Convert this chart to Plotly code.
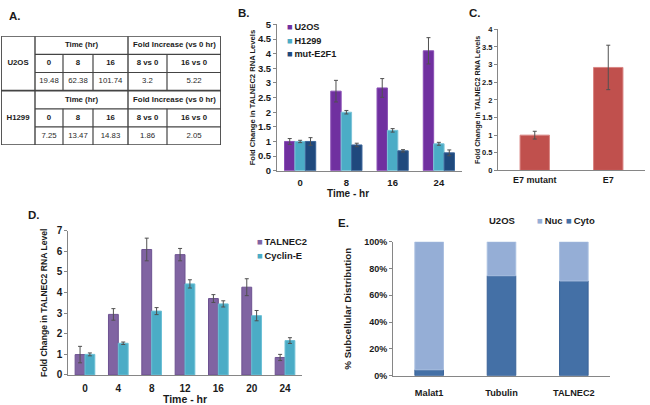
import plotly.graph_objects as go

W, H = 650, 405
FONT = "Arial, 'Liberation Sans', 'DejaVu Sans', sans-serif"
AX = "#868686"
ERR = "#505050"

def px(x):
    return x / W

def py(y):
    return 1 - y / H

# ---------------- Panel A: table data ----------------
table_cells = ["U2OS", "H1299"]
time_labels = ["0", "8", "16"]
fold_labels = ["8 vs 0", "16 vs 0"]
u2os_vals = ["19.48", "62.38", "101.74", "3.2", "5.22"]
h1299_vals = ["7.25", "13.47", "14.83", "1.86", "2.05"]

# ---------------- Panel B data ----------------
b_times = ["0", "8", "16", "24"]
b_u2os = [1.0, 2.72, 2.83, 4.1]
b_u2os_err = [0.1, 0.37, 0.32, 0.45]
b_h1299 = [1.0, 2.0, 1.38, 0.92]
b_h1299_err = [0.04, 0.06, 0.06, 0.05]
b_mut = [1.0, 0.88, 0.68, 0.61]
b_mut_err = [0.13, 0.06, 0.04, 0.1]

# ---------------- Panel C data ----------------
c_cats = ["E7 mutant", "E7"]
c_vals = [1.0, 2.92]
c_err = [0.11, 0.63]

# ---------------- Panel D data ----------------
d_times = ["0", "4", "8", "12", "16", "20", "24"]
d_talnec2 = [0.99, 2.94, 6.09, 5.84, 3.71, 4.26, 0.85]
d_talnec2_err = [0.4, 0.28, 0.55, 0.3, 0.19, 0.41, 0.15]
d_cyclin = [1.0, 1.54, 3.1, 4.42, 3.45, 2.88, 1.67]
d_cyclin_err = [0.07, 0.06, 0.17, 0.2, 0.15, 0.25, 0.14]

# ---------------- Panel E data ----------------
e_cats = ["Malat1", "Tubulin", "TALNEC2"]
e_cyto = [4.4, 74.6, 70.7]
e_nuc = [95.6, 25.4, 29.3]

fig = go.Figure()

def errbar(arr):
    return dict(type="data", array=arr, color=ERR, thickness=1, width=2)

# Panel B bars
bw = 0.225
for i, (name, vals, errs, col, edge) in enumerate([
    ("U2OS", b_u2os, b_u2os_err, "#7030A0", "#8a4fb5"),
    ("H1299", b_h1299, b_h1299_err, "#4BACC6", "#7cc4d8"),
    ("mut-E2F1", b_mut, b_mut_err, "#1F497D", "#3b6599"),
]):
    fig.add_trace(go.Bar(x=b_times, y=vals, name=name, width=bw, offset=(i - 1.5) * bw,
                         marker=dict(color=col, line=dict(color=edge, width=1)),
                         error_y=errbar(errs), xaxis="x", yaxis="y", showlegend=False))

# Panel C bars
fig.add_trace(go.Bar(x=c_cats, y=c_vals, width=0.4,
                     marker=dict(color="#C0504D", line=dict(color="#d98583", width=1)),
                     error_y=errbar(c_err), xaxis="x2", yaxis="y2", showlegend=False))

# Panel D bars
dw = 0.295
for i, (name, vals, errs, col, edge) in enumerate([
    ("TALNEC2", d_talnec2, d_talnec2_err, "#8064A2", "#6d5291"),
    ("Cyclin-E", d_cyclin, d_cyclin_err, "#4BACC6", "#6cc0d6"),
]):
    fig.add_trace(go.Bar(x=d_times, y=vals, name=name, width=dw, offset=(i - 1) * dw,
                         marker=dict(color=col, line=dict(color=edge, width=1)),
                         error_y=errbar(errs), xaxis="x3", yaxis="y3", showlegend=False))

# Panel E stacked bars
fig.add_trace(go.Bar(x=e_cats, y=e_cyto, name="Cyto", width=0.395,
                     marker=dict(color="#4470A6", line=dict(color="#3a6398", width=1)),
                     xaxis="x4", yaxis="y4", showlegend=False))
fig.add_trace(go.Bar(x=e_cats, y=e_nuc, base=e_cyto, name="Nuc", width=0.395,
                     marker=dict(color="#95AED6", line=dict(color="#a9bfe0", width=1)),
                     xaxis="x4", yaxis="y4", showlegend=False))

# ---------------- Panel A table ----------------
col_w = [34, 28, 30, 35, 39, 54]
edges = [0]
for w_ in col_w:
    edges.append(edges[-1] + w_)
centers = [(edges[i] + edges[i + 1]) / 2 for i in range(len(col_w))]
tot = edges[-1]
LC = "#444444"
shapes = []
def line(x0, y0, x1, y1, w=1.2):
    shapes.append(dict(type="line", xref="x5", yref="y5", x0=x0, y0=y0, x1=x1, y1=y1,
                       line=dict(color=LC, width=w)))
line(0, 0, tot, 0, 1.8); line(0, 6, tot, 6, 1.8); line(0, 0, 0, 6, 1.8); line(tot, 0, tot, 6, 1.8)
line(0, 3, tot, 3, 1.6)
for r in [1, 2, 4, 5]:
    line(edges[1], r, tot, r)
line(edges[1], 0, edges[1], 6, 1.4); line(edges[4], 0, edges[4], 6, 1.4)
for b in [0, 3]:
    for c in [2, 3, 5]:
        line(edges[c], b + 1, edges[c], b + 3)

bold_x, bold_y, bold_t = [], [], []
reg_x, reg_y, reg_t = [], [], []
for bi, (lab, vals) in enumerate(zip(table_cells, [u2os_vals, h1299_vals])):
    r0 = bi * 3
    bold_x += [centers[0], (edges[1] + edges[4]) / 2, (edges[4] + edges[6]) / 2]
    bold_y += [r0 + 1.5, r0 + 0.5, r0 + 0.5]
    bold_t += [lab, "Time (hr)", "Fold Increase (vs 0 hr)"]
    for j, t in enumerate(time_labels + fold_labels):
        bold_x.append(centers[j + 1]); bold_y.append(r0 + 1.5); bold_t.append(t)
    for j, t in enumerate(vals):
        reg_x.append(centers[j + 1]); reg_y.append(r0 + 2.5); reg_t.append(t)
fig.add_trace(go.Scatter(x=bold_x, y=bold_y, text=bold_t, mode="text",
                         textfont=dict(family=FONT, size=7.8, color="#1a1a1a", weight="bold"),
                         xaxis="x5", yaxis="y5", showlegend=False, hoverinfo="skip"))
fig.add_trace(go.Scatter(x=reg_x, y=reg_y, text=reg_t, mode="text",
                         textfont=dict(family=FONT, size=7.8, color="#2a2a2a", weight="normal"),
                         xaxis="x5", yaxis="y5", showlegend=False, hoverinfo="skip"))

tickf = lambda s: dict(family=FONT, size=s, color="#1a1a1a", weight="bold")

def yax(dom_px, rng, dtick, tsize, title, tfs, standoff, suffix=""):
    return dict(domain=[py(dom_px[1]), py(dom_px[0])], range=rng, dtick=dtick,
                showline=True, linecolor=AX, linewidth=1, ticks="outside", ticklen=3,
                tickcolor=AX, showgrid=False, zeroline=False, tickfont=tickf(tsize),
                ticksuffix=suffix, fixedrange=True,
                title=dict(text=title, font=tickf(tfs), standoff=standoff))

def xax(dom_px, tsize, anchor, pad):
    return dict(domain=[px(dom_px[0]), px(dom_px[1])], type="category", showline=True,
                linecolor=AX, linewidth=1, ticks="outside", ticklen=pad,
                tickcolor="rgba(0,0,0,0)", showgrid=False, zeroline=False,
                tickfont=tickf(tsize), anchor=anchor, fixedrange=True)

layout = dict(
    width=W, height=H, margin=dict(l=0, r=0, t=0, b=0),
    paper_bgcolor="white", plot_bgcolor="white", barmode="overlay",
    font=dict(family=FONT, color="#222"),
    xaxis=xax([277, 462], 9.5, "y", 3),
    yaxis=yax([19, 169.3], [0, 5], 0.5, 9.5, "Fold Change in TALNEC2 RNA Levels", 7.6, 1),
    xaxis2=xax([498, 645], 9, "y2", 1),
    yaxis2=dict(yax([24, 169], [0, 4], 0.5, 7.5, "Fold Change in TALNEC2 RNA Levels", 7.2, 0), anchor="x2"),
    xaxis3=xax([68.3, 301.7], 10, "y3", 4),
    yaxis3=dict(yax([231, 379.3], [0, 7], 1, 10, "Fold Change in TALNEC2 RNA Level", 8.6, 7), anchor="x3"),
    xaxis4=xax([393, 610], 9.2, "y4", 8),
    yaxis4=dict(yax([242.3, 380], [0, 100], 20, 9, "% Subcellular Distribution", 9.8, 10, "%"), anchor="x4"),
    xaxis5=dict(domain=[px(1), px(221)], range=[0, tot], visible=False, anchor="y5", fixedrange=True),
    yaxis5=dict(domain=[py(143), py(31)], range=[6, 0], visible=False, anchor="x5", fixedrange=True),
    shapes=shapes,
)
layout["xaxis3"]["title"] = dict(text="Time - hr", font=tickf(10.5), standoff=4)
fig.update_layout(**layout)

ann = []
def A(x, y, text, size, xanchor="center", bold=True, color="#1a1a1a"):
    ann.append(dict(xref="paper", yref="paper", x=px(x), y=py(y), text=text, showarrow=False,
                    xanchor=xanchor, yanchor="middle",
                    font=dict(family=FONT, size=size, color=color, weight="bold" if bold else "normal")))

# panel labels
A(7, 10, "A.", 11.5, "left"); A(236, 7, "B.", 11.5, "left"); A(467, 7, "C.", 11.5, "left")
A(26, 215, "D.", 11.5, "left"); A(336, 223, "E.", 11.5, "left")
# B x-axis title
A(348, 193, "Time - hr", 10)
# legends
def leg(x, y, color, name, size):
    A(x, y, f"<span style='color:{color}'>■</span>\u2009{name}", size, "left")
leg(285, 22, "#7030A0", "U2OS", 9.2)
leg(285, 35.5, "#4BACC6", "H1299", 9.2)
leg(285, 49, "#1F497D", "mut-E2F1", 9.2)
leg(255, 242, "#8064A2", "TALNEC2", 9.4)
leg(255, 256.5, "#4BACC6", "Cyclin-E", 9.4)
A(502, 220, "U2OS", 9.5)
leg(535, 220, "#95AED6", "Nuc", 9.5)
leg(564, 220, "#4470A6", "Cyto", 9.5)
fig.update_layout(annotations=ann)

fig.write_html("out.html", config={"displayModeBar": False},
               post_script="document.body.style.margin='0';")
